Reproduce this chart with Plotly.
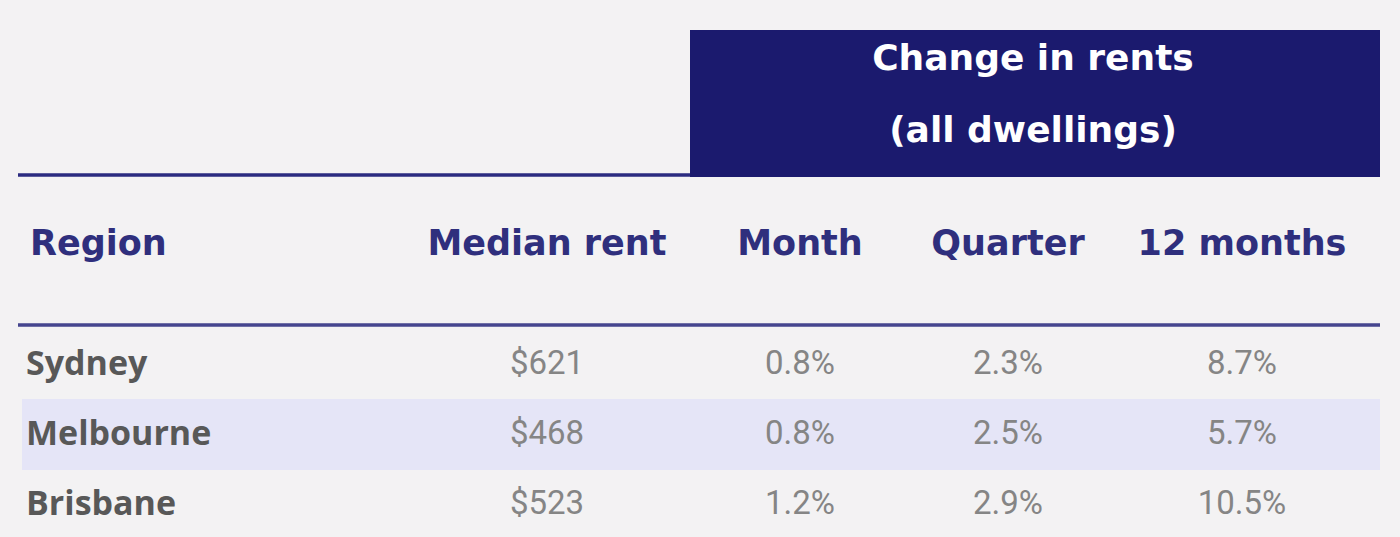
import plotly.graph_objects as go

regions = ["Sydney", "Melbourne", "Brisbane"]
median_rent = ["$621", "$468", "$523"]
month_change = ["0.8%", "0.8%", "1.2%"]
quarter_change = ["2.3%", "2.5%", "2.9%"]
annual_change = ["8.7%", "5.7%", "10.5%"]
column_headers = ["Median rent", "Month", "Quarter", "12 months"]
group_header = ["Change in rents", "(all dwellings)"]
region_header = "Region"

W, H = 1400, 537
NAVY = "#1b1a6e"
HEAD = "#2f2f7d"
BG = "#f3f2f3"

col_x = [547, 800, 1008, 1242]
row_y = [366, 436, 506]
header_y = 246

fig = go.Figure()

# Region header
fig.add_trace(go.Scatter(
    x=[30], y=[header_y], mode="text", text=[region_header],
    textposition="middle right",
    textfont=dict(family="DejaVu Sans", size=35, color=HEAD, weight="bold"),
    hoverinfo="skip", showlegend=False))

# Column headers
fig.add_trace(go.Scatter(
    x=col_x, y=[header_y] * len(col_x), mode="text", text=column_headers,
    textposition="middle center",
    textfont=dict(family="DejaVu Sans", size=35, color=HEAD, weight="bold"),
    hoverinfo="skip", showlegend=False))

# Group header (white on navy)
fig.add_trace(go.Scatter(
    x=[1033, 1033], y=[61, 133], mode="text", text=group_header,
    textposition="middle center",
    textfont=dict(family="DejaVu Sans", size=36, color="white", weight="bold"),
    hoverinfo="skip", showlegend=False))

# Region names
fig.add_trace(go.Scatter(
    x=[26] * len(regions), y=row_y, mode="text", text=regions,
    textposition="middle right",
    textfont=dict(family="Open Sans", size=34, color="#585858", weight="bold"),
    hoverinfo="skip", showlegend=False))

# Values
for cx, col in zip(col_x, [median_rent, month_change, quarter_change, annual_change]):
    fig.add_trace(go.Scatter(
        x=[cx] * len(col), y=row_y, mode="text", text=col,
        textposition="middle center",
        textfont=dict(family="Roboto", size=33, color="#858585"),
        hoverinfo="skip", showlegend=False))

shapes = [
    dict(type="rect", xref="x", yref="y", x0=690, x1=1380, y0=30, y1=177,
         fillcolor=NAVY, line=dict(width=0), layer="below"),
    dict(type="line", xref="x", yref="y", x0=18, x1=690, y0=175, y1=175,
         line=dict(color="#2b2b80", width=3.5), layer="below"),
    dict(type="rect", xref="x", yref="y", x0=22, x1=1380, y0=399, y1=470,
         fillcolor="#e5e5f7", line=dict(width=0), layer="below"),
    dict(type="line", xref="x", yref="y", x0=18, x1=1380, y0=325, y1=325,
         line=dict(color="#45458e", width=3.5), layer="below"),
]

fig.update_layout(
    width=W, height=H,
    margin=dict(l=0, r=0, t=0, b=0),
    paper_bgcolor=BG, plot_bgcolor=BG,
    shapes=shapes,
    xaxis=dict(range=[0, W], visible=False, fixedrange=True),
    yaxis=dict(range=[H, 0], visible=False, fixedrange=True),
)

fig.write_html(
    "out.html",
    config={"displayModeBar": False, "staticPlot": True},
    post_script="document.body.style.margin='0';document.body.style.background='%s';" % BG,
)
